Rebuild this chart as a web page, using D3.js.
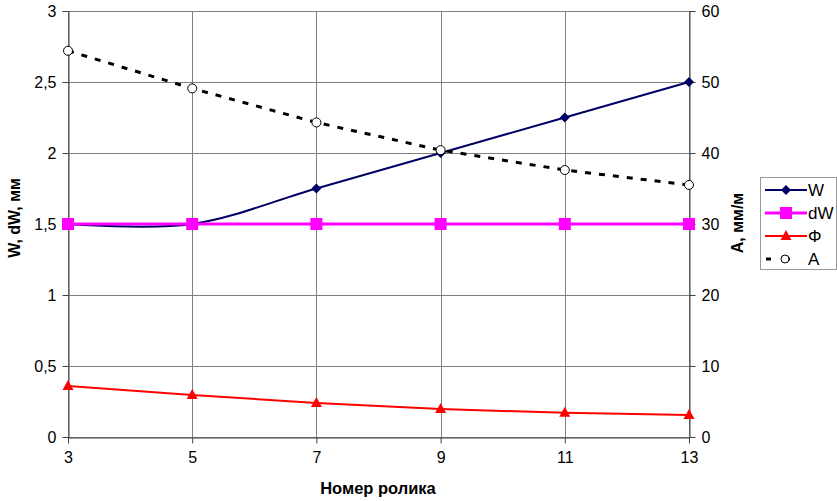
<!DOCTYPE html>
<html>
<head>
<meta charset="utf-8">
<script src="https://cdn.jsdelivr.net/npm/d3@7"></script>
<style>
  html, body { margin: 0; padding: 0; background: #fff; }
  svg { display: block; font-family: "Liberation Sans", Arial, sans-serif; }
</style>
</head>
<body>
<svg id="chart" width="837" height="501"></svg>
<script>
// Roller number along the x axis
const rollers = [3, 5, 7, 9, 11, 13];
// Left axis series, mm
const wValues = [1.5, 1.5, 1.75, 2.0, 2.25, 2.5];
const dwValues = [1.5, 1.5, 1.5, 1.5, 1.5, 1.5];
const phiValues = [0.36, 0.295, 0.24, 0.197, 0.17, 0.155];
// Right axis series, mm/m
const aValues = [54.4, 49.1, 44.3, 40.4, 37.6, 35.5];

const xTicks = [3, 5, 7, 9, 11, 13];
const leftTicks = [0, 0.5, 1, 1.5, 2, 2.5, 3];
const rightTicks = [0, 10, 20, 30, 40, 50, 60];

const svg = d3.select("#chart");
const plot = { left: 68, right: 689, top: 11, bottom: 437 };

const x = d3.scaleLinear().domain([3, 13]).range([plot.left, plot.right]);
const yL = d3.scaleLinear().domain([0, 3]).range([plot.bottom, plot.top]);
const yR = d3.scaleLinear().domain([0, 60]).range([plot.bottom, plot.top]);

const fmt = d3.formatLocale({ decimal: ",", thousands: " ", grouping: [3], currency: ["", ""] });
const fmtL = d => fmt.format("~g")(d);

// Gridlines
const grid = svg.append("g").attr("stroke", "#808080").attr("stroke-width", 1);
leftTicks.forEach(t => grid.append("line")
  .attr("x1", plot.left).attr("x2", plot.right)
  .attr("y1", Math.round(yL(t)) + 0.5).attr("y2", Math.round(yL(t)) + 0.5));
xTicks.forEach(t => grid.append("line")
  .attr("y1", plot.top).attr("y2", plot.bottom)
  .attr("x1", Math.round(x(t)) + 0.5).attr("x2", Math.round(x(t)) + 0.5));

// Axes
const axisStyle = g => {
  g.selectAll(".domain").attr("stroke", "#404040");
  g.selectAll(".tick line").attr("stroke", "#404040");
  g.selectAll(".tick text").attr("font-size", 16).attr("fill", "#000")
    .attr("font-family", "'Liberation Sans', Arial, sans-serif");
};
svg.append("g").attr("transform", `translate(${plot.left + 0.5},0)`)
  .call(d3.axisLeft(yL).tickValues(leftTicks).tickFormat(fmtL).tickSize(6).tickSizeOuter(0).tickPadding(6))
  .call(axisStyle);
svg.append("g").attr("transform", `translate(${plot.right + 0.5},0)`)
  .call(d3.axisRight(yR).tickValues(rightTicks).tickFormat(d3.format("d")).tickSize(6).tickSizeOuter(0).tickPadding(6))
  .call(axisStyle);
svg.append("g").attr("transform", `translate(0,${plot.bottom + 0.5})`)
  .call(d3.axisBottom(x).tickValues(xTicks).tickFormat(d3.format("d")).tickSize(6).tickSizeOuter(0).tickPadding(8))
  .call(axisStyle);

// Axis titles
svg.append("text").attr("transform", "translate(20,218) rotate(-90)")
  .attr("text-anchor", "middle").attr("font-size", 16).attr("font-weight", "bold").text("W, dW, мм");
svg.append("text").attr("transform", "translate(743,223) rotate(-90)")
  .attr("text-anchor", "middle").attr("font-size", 16).attr("font-weight", "bold").text("A, мм/м");
svg.append("text").attr("x", 378).attr("y", 494)
  .attr("text-anchor", "middle").attr("font-size", 16.5).attr("font-weight", "bold").text("Номер ролика");

// Series
const lineL = d3.line().x((d, i) => x(rollers[i])).y(d => yL(d));
const lineR = d3.line().x((d, i) => x(rollers[i])).y(d => yR(d));

// W (smoothed)
svg.append("path").datum(wValues).attr("d", lineL.curve(d3.curveCatmullRom.alpha(0)))
  .attr("fill", "none").attr("stroke", "#000066").attr("stroke-width", 2);
lineL.curve(d3.curveLinear);
svg.append("g").selectAll("path").data(wValues).join("path")
  .attr("transform", (d, i) => `translate(${x(rollers[i])},${yL(d)})`)
  .attr("d", "M0,-5L5,0L0,5L-5,0Z").attr("fill", "#000066");

// dW
svg.append("path").datum(dwValues).attr("d", lineL).attr("fill", "none")
  .attr("stroke", "#ff00ff").attr("stroke-width", 3);
svg.append("g").selectAll("rect").data(dwValues).join("rect")
  .attr("x", (d, i) => x(rollers[i]) - 6).attr("y", d => yL(d) - 6)
  .attr("width", 12).attr("height", 12).attr("fill", "#ff00ff");

// Φ
svg.append("path").datum(phiValues).attr("d", lineL).attr("fill", "none")
  .attr("stroke", "#ff0000").attr("stroke-width", 2);
svg.append("g").selectAll("path").data(phiValues).join("path")
  .attr("transform", (d, i) => `translate(${x(rollers[i])},${yL(d)})`)
  .attr("d", "M0,-6L5.5,4L-5.5,4Z").attr("fill", "#ff0000");

// A (right axis)
svg.append("path").datum(aValues).attr("d", lineR).attr("fill", "none")
  .attr("stroke", "#000").attr("stroke-width", 3).attr("stroke-dasharray", "6,8");
svg.append("g").selectAll("circle").data(aValues).join("circle")
  .attr("cx", (d, i) => x(rollers[i])).attr("cy", d => yR(d)).attr("r", 4.5)
  .attr("fill", "#fff").attr("stroke", "#000").attr("stroke-width", 1);

// Legend
const legend = svg.append("g").attr("transform", "translate(760,177)");
legend.append("rect").attr("x", 0.5).attr("y", 0.5).attr("width", 76).attr("height", 92)
  .attr("fill", "#fff").attr("stroke", "#999");
const items = [
  { name: "W", color: "#000066", marker: "diamond", width: 2 },
  { name: "dW", color: "#ff00ff", marker: "square", width: 3 },
  { name: "Φ", color: "#ff0000", marker: "triangle", width: 2 },
  { name: "A", color: "#000", marker: "circle", width: 3 }
];
items.forEach((it, i) => {
  const cy = 13 + i * 23;
  const g = legend.append("g").attr("transform", `translate(0,${cy})`);
  if (it.marker === "circle") {
    g.append("line").attr("x1", 6).attr("x2", 11).attr("y1", 0).attr("y2", 0)
      .attr("stroke", "#000").attr("stroke-width", 3);
    g.append("line").attr("x1", 26).attr("x2", 30).attr("y1", 0).attr("y2", 0)
      .attr("stroke", "#000").attr("stroke-width", 3);
    g.append("circle").attr("cx", 25).attr("cy", 0).attr("r", 4)
      .attr("fill", "#fff").attr("stroke", "#000");
  } else {
    g.append("line").attr("x1", 5).attr("x2", 47).attr("y1", 0).attr("y2", 0)
      .attr("stroke", it.color).attr("stroke-width", it.width);
    if (it.marker === "diamond") g.append("path").attr("d", "M26,-5L31,0L26,5L21,0Z").attr("fill", it.color);
    if (it.marker === "square") g.append("rect").attr("x", 20).attr("y", -6).attr("width", 12).attr("height", 12).attr("fill", it.color);
    if (it.marker === "triangle") g.append("path").attr("d", "M26,-6L31.5,4L20.5,4Z").attr("fill", it.color);
  }
  g.append("text").attr("x", 48).attr("y", 6).attr("font-size", 17).text(it.name);
});
</script>
</body>
</html>
